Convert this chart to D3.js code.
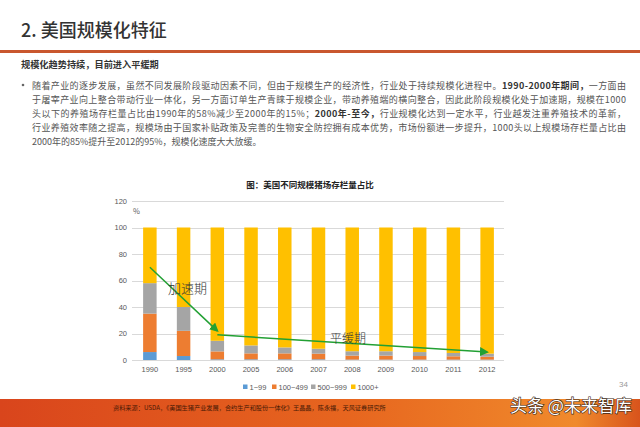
<!DOCTYPE html>
<html>
<head>
<meta charset="utf-8">
<script src="https://cdn.jsdelivr.net/npm/d3@7/dist/d3.min.js"></script>
<style>
  html, body { margin: 0; padding: 0; background: #fff; }
  svg { display: block; font-family: "Noto Sans CJK SC", "Noto Sans", sans-serif; }
</style>
</head>
<body>
<svg id="chart" width="640" height="427"></svg>
<script>
// ---------- data ----------
const years = ["1990","1995","2000","2005","2006","2007","2008","2009","2010","2011","2012"];
const seriesNames = ["1~99", "100~499", "500~999", "1000+"];
const s1_99     = [6, 3, 0.5, 0.5, 0.5, 0.5, 0.3, 0.3, 0.3, 0.3, 0.3];
const s100_499  = [29, 19, 6, 4.5, 4.5, 4.3, 3, 3, 2.7, 2.5, 2.2];
const s500_999  = [23, 18, 8, 6, 4.5, 3.7, 3.3, 3.3, 3, 2.5, 2.3];
const s1000plus = [42, 60, 85.5, 89, 90.5, 91.5, 93.4, 93.4, 94, 94.7, 95.2];
const yTicks = [0, 20, 40, 60, 80, 100, 120];
// trend arrows: [year, value] -> [year, value]
const arrowAccel = [["1990", 70], ["2000", 22]];
const arrowFlat  = [["2000", 19], ["2012", 6]];
const colors = ["#5b9bd5", "#ed7d31", "#a5a5a5", "#ffc000"];

const svg = d3.select("#chart");

// ---------- header ----------
svg.append("text").attr("x", 21).attr("y", 37)
  .attr("font-size", 18).attr("font-weight", 500).attr("fill", "#333")
  .text("2. 美国规模化特征");
svg.append("rect").attr("x", 0).attr("y", 50).attr("width", 640).attr("height", 3).attr("fill", "#c9572e");

svg.append("text").attr("x", 21).attr("y", 67.5)
  .attr("font-size", 9.2).attr("font-weight", 700).attr("fill", "#333")
  .text("规模化趋势持续，目前进入平缓期");

// bullet
svg.append("circle").attr("cx", 23).attr("cy", 85).attr("r", 1.3).attr("fill", "#666");

const bodyLines = [
  [["随着产业的逐步发展，虽然不同发展阶段驱动因素不同，但由于规模生产的经济性，行业处于持续规模化进程中。", 400], ["1990-2000年期间，", 700], ["一方面由", 400]],
  [["于屠宰产业向上整合带动行业一体化，另一方面订单生产青睐于规模企业，带动养殖端的横向整合，因此此阶段规模化处于加速期，规模在1000", 400]],
  [["头以下的养殖场存栏量占比由1990年的58%减少至2000年的15%；", 400], ["2000年-至今，", 700], ["行业规模化达到一定水平，行业越发注重养殖技术的革新，", 400]],
  [["行业养殖效率随之提高，规模场由于国家补贴政策及完善的生物安全防控拥有成本优势，市场份额进一步提升，1000头以上规模场存栏量占比由", 400]],
  [["2000年的85%提升至2012的95%，规模化速度大大放缓。", 400]]
];
bodyLines.forEach((parts, i) => {
  const t = svg.append("text").attr("x", 32).attr("y", 88.5 + i * 14)
    .attr("font-size", 9).attr("fill", "#555");
  if (i < 4) t.attr("textLength", 594).attr("lengthAdjust", "spacing");
  parts.forEach(p => t.append("tspan").attr("font-weight", p[1]).attr("fill", p[1] === 700 ? "#333" : "#555").text(p[0]));
});

// ---------- chart ----------
svg.append("text").attr("x", 310).attr("y", 188)
  .attr("text-anchor", "middle").attr("font-size", 8.5).attr("font-weight", 700).attr("fill", "#222")
  .text("图：美国不同规模猪场存栏量占比");

const x = d3.scaleBand().domain(years).range([133, 504]).paddingInner(0.6).paddingOuter(0.3);
const y = d3.scaleLinear().domain([0, 120]).range([360, 201]);

// grid
svg.append("g").selectAll("line").data(yTicks).join("line")
  .attr("x1", 132).attr("x2", 504)
  .attr("y1", d => Math.round(y(d)) + 0.5).attr("y2", d => Math.round(y(d)) + 0.5)
  .attr("stroke", "#d9d9d9").attr("stroke-width", 1);

// y axis labels
const yAxis = d3.axisLeft(y).tickValues(yTicks).tickSize(0).tickPadding(0);
const gy = svg.append("g").attr("transform", "translate(127,0)").call(yAxis);
gy.select(".domain").remove();
gy.selectAll("text").attr("font-size", 7.5).attr("fill", "#595959").attr("font-family", "Liberation Sans, sans-serif");

svg.append("text").attr("x", 133).attr("y", 214).attr("font-size", 7.5).attr("fill", "#595959").text("%");

// stacked bars
const table = years.map((yr, i) => ({
  year: yr, "1~99": s1_99[i], "100~499": s100_499[i], "500~999": s500_999[i], "1000+": s1000plus[i]
}));
const stacked = d3.stack().keys(seriesNames)(table);
svg.append("g").selectAll("g").data(stacked).join("g")
  .attr("fill", (d, i) => colors[i])
  .selectAll("rect").data(d => d).join("rect")
  .attr("x", d => x(d.data.year))
  .attr("width", x.bandwidth())
  .attr("y", d => y(d[1]))
  .attr("height", d => y(d[0]) - y(d[1]));

// x axis labels
const xAxis = d3.axisBottom(x).tickSize(0).tickPadding(0);
const gx = svg.append("g").attr("transform", "translate(0,367)").call(xAxis);
gx.select(".domain").remove();
gx.selectAll("text").attr("font-size", 7.5).attr("fill", "#595959").attr("font-family", "Liberation Sans, sans-serif");

// arrows
const defs = svg.append("defs");
defs.append("marker").attr("id", "arrowG").attr("viewBox", "0 0 10 10")
  .attr("refX", 8).attr("refY", 5).attr("markerWidth", 6).attr("markerHeight", 6)
  .attr("orient", "auto-start-reverse")
  .append("path").attr("d", "M0,0 L10,5 L0,10 z").attr("fill", "#22a033");

[arrowAccel, arrowFlat].forEach(a => {
  svg.append("line")
    .attr("x1", x(a[0][0]) + x.bandwidth() / 2).attr("y1", y(a[0][1]))
    .attr("x2", x(a[1][0]) + x.bandwidth() / 2).attr("y2", y(a[1][1]))
    .attr("stroke", "#22a033").attr("stroke-width", 1.5)
    .attr("marker-end", "url(#arrowG)");
});

svg.append("text").attr("x", 168).attr("y", 293).attr("font-size", 13).attr("fill", "#333")
  .attr("font-weight", 300).text("加速期");
svg.append("text").attr("x", 330).attr("y", 343).attr("font-size", 12).attr("fill", "#333")
  .attr("font-weight", 300).text("平缓期");

// legend
const legX = [243, 272, 311, 351];
seriesNames.forEach((n, i) => {
  svg.append("rect").attr("x", legX[i]).attr("y", 384.5).attr("width", 4.5).attr("height", 4.5).attr("fill", colors[i]);
  svg.append("text").attr("x", legX[i] + 6.5).attr("y", 389.5).attr("font-size", 7.5).attr("fill", "#595959")
    .attr("font-family", "Liberation Sans, sans-serif").text(n);
});

// page number
svg.append("text").attr("x", 628).attr("y", 387).attr("text-anchor", "end").attr("font-size", 8).attr("fill", "#999")
  .attr("font-family", "Liberation Sans, sans-serif").text("34");

// ---------- footer ----------
const grad = defs.append("linearGradient").attr("id", "foot").attr("x1", "0").attr("x2", "1");
grad.append("stop").attr("offset", "0%").attr("stop-color", "#d9451c");
grad.append("stop").attr("offset", "55%").attr("stop-color", "#e7661f");
grad.append("stop").attr("offset", "90%").attr("stop-color", "#f08a2c");
grad.append("stop").attr("offset", "100%").attr("stop-color", "#d8541c");
svg.append("rect").attr("x", 0).attr("y", 399).attr("width", 640).attr("height", 28).attr("fill", "url(#foot)");

svg.append("text").attr("x", 113).attr("y", 410).attr("font-size", 6.2).attr("fill", "#4a1a05")
  .text("资料来源：USDA，《美国生猪产业发展，合约生产和股份一体化》王晶晶，陈永福，天风证券研究所");

svg.append("text").attr("x", 510).attr("y", 412).attr("font-size", 17).attr("fill", "#fff")
  .attr("stroke", "#3a2a20").attr("stroke-width", 1.2).attr("paint-order", "stroke")
  .text("头条 @未来智库");
</script>
</body>
</html>
